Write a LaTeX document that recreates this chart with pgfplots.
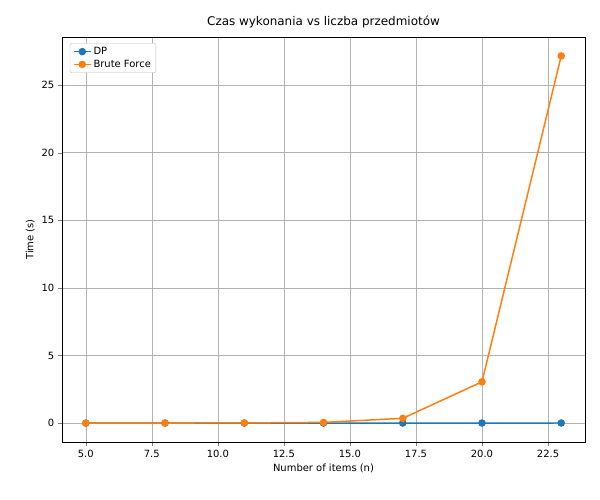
\documentclass[border=0pt]{standalone}
\usepackage{pgfplots}
\pgfplotsset{compat=1.18}
\usepackage{fontspec}
\setmainfont{DejaVu Sans}
\begin{document}
\begin{tikzpicture}
\begin{axis}[
  at={(0,0)}, anchor=south west,
  scale only axis, width=523bp, height=405bp,
  xmin=4.1, xmax=23.9, ymin=-1.4, ymax=28.55,
  xtick={5,7.5,10,12.5,15,17.5,20,22.5},
  xticklabels={5.0,7.5,10.0,12.5,15.0,17.5,20.0,22.5},
  ytick={0,5,10,15,20,25},
  grid=major, grid style={gray!60},
  tick align=outside, tick pos=left,
  tick label style={font=\fontsize{10}{12}\selectfont},
  /pgf/number format/assume math mode=true,
  title={Czas wykonania vs liczba przedmiotów},
  title style={font=\fontsize{12}{14}\selectfont},
  xlabel={Number of items (n)}, ylabel={Time (s)},
  label style={font=\fontsize{10}{12}\selectfont},
  legend style={at={(0.015,0.985)}, anchor=north west, font=\fontsize{10}{12}\selectfont, draw=gray!50, rounded corners=2pt},
  legend cell align=left,
]
\addplot[color={rgb,255:red,31;green,119;blue,180}, line width=1.5pt, mark=*, mark size=3pt] coordinates {(5,0)(8,0)(11,0)(14,0.002)(17,0.003)(20,0.004)(23,0.005)};
\addlegendentry{DP}
\addplot[color={rgb,255:red,255;green,127;blue,14}, line width=1.5pt, mark=*, mark size=3pt] coordinates {(5,0)(8,0.002)(11,0.01)(14,0.05)(17,0.35)(20,3.05)(23,27.15)};
\addlegendentry{Brute Force}
\end{axis}
\path[use as bounding box] (-62bp,-58bp) rectangle (538bp,442bp);
\end{tikzpicture}
\end{document}
